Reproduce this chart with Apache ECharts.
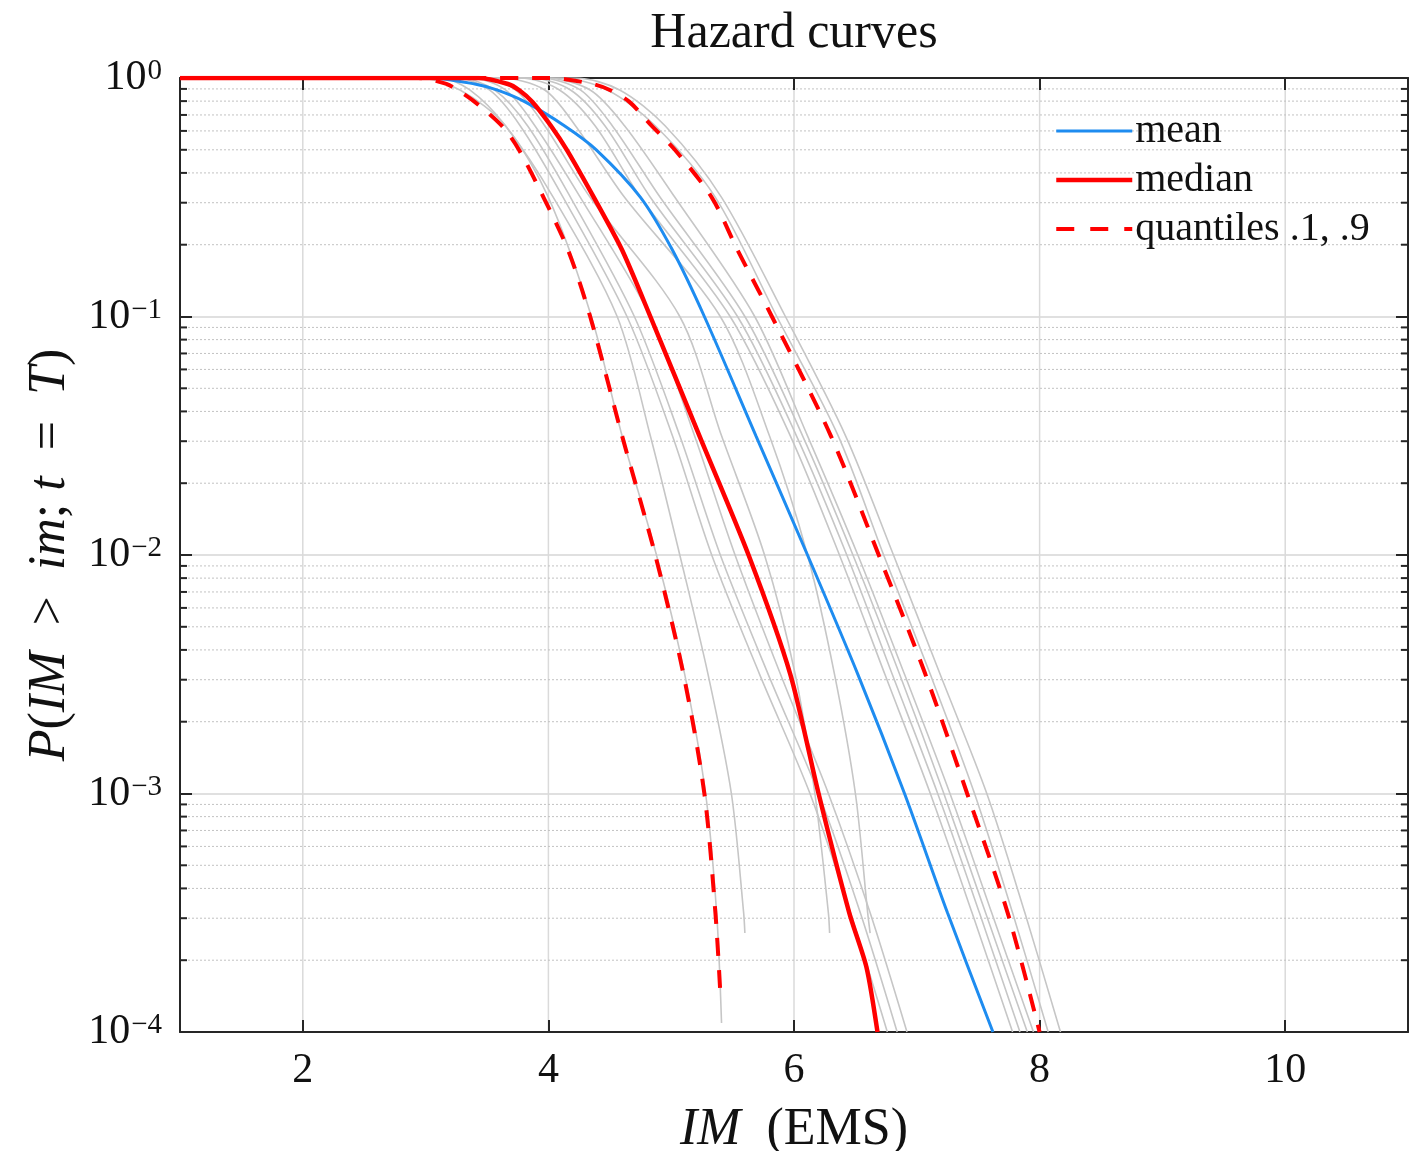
<!DOCTYPE html>
<html><head><meta charset="utf-8">
<script src="https://cdn.jsdelivr.net/npm/echarts@6/dist/echarts.min.js"></script>
<style>html,body{margin:0;padding:0;background:#fff}#c{width:1422px;height:1151px}</style>
</head><body><div id="c"></div>
<script>
// ---- data (IM value, exceedance probability) ----
const xTicks = [2, 4, 6, 8, 10];
const yMinor = [0.0002,0.0003,0.0004,0.0005,0.0006,0.0007,0.0008,0.0009,
  0.002,0.003,0.004,0.005,0.006,0.007,0.008,0.009,
  0.02,0.03,0.04,0.05,0.06,0.07,0.08,0.09,
  0.2,0.3,0.4,0.5,0.6,0.7,0.8,0.9];

const meanCurve = [[1,1],[3.03,1],[3.40,0.944],[3.58,0.891],[3.81,0.794],[4.13,0.631],[4.39,0.5],[4.75,0.316],[5.01,0.19],[5.27,0.1],[5.69,0.0316],[6.11,0.01],[6.52,0.00316],[6.90,0.001],[7.25,0.000316],[7.62,0.0001]];
const medianCurve = [[1,1],[3.43,1],[3.67,0.944],[3.76,0.891],[3.87,0.794],[4.02,0.631],[4.15,0.5],[4.37,0.316],[4.60,0.19],[4.83,0.1],[5.23,0.0316],[5.63,0.01],[5.97,0.00316],[6.20,0.001],[6.45,0.000316],[6.59,0.000187],[6.68,0.0001]];
const q10Curve = [[1,1],[2.94,1],[3.17,0.944],[3.26,0.891],[3.40,0.794],[3.62,0.631],[3.76,0.5],[3.96,0.316],[4.16,0.19],[4.34,0.1],[4.60,0.0316],[4.87,0.01],[5.10,0.00316],[5.27,0.001],[5.36,0.000316],[5.40,0.000146]];
const q90Curve = [[1,1],[4.01,1],[4.36,0.944],[4.50,0.891],[4.66,0.794],[4.84,0.631],[5.03,0.5],[5.33,0.316],[5.54,0.19],[5.82,0.1],[6.30,0.0316],[6.69,0.01],[7.07,0.00316],[7.41,0.001],[7.74,0.000316],[8.00,0.0001]];

const grayA = [[1,1],[2.94,1],[3.28,0.891],[3.65,0.631],[4.00,0.316],[4.35,0.1],[4.60,0.0316],[4.88,0.01],[5.11,0.00316],[5.28,0.001],[5.37,0.000316],[5.41,0.000109]];
const grayB = [[1,1],[3.12,1],[3.36,0.891],[3.65,0.631],[4.04,0.316],[4.56,0.1],[4.83,0.0316],[5.07,0.01],[5.30,0.00316],[5.49,0.001],[5.59,0.000316],[5.60,0.00026]];
const grayC = [[1,1],[3.24,1],[3.52,0.891],[3.77,0.631],[4.12,0.316],[4.64,0.1],[5.01,0.0316],[5.33,0.01],[5.72,0.00316],[6.13,0.001],[6.46,0.000316],[6.76,0.0001]];
const grayD = [[1,1],[3.28,1],[3.56,0.891],[3.83,0.631],[4.18,0.316],[4.70,0.1],[5.07,0.0316],[5.40,0.01],[5.79,0.00316],[6.20,0.001],[6.54,0.000316],[6.84,0.0001]];
const grayE = [[1,1],[3.44,1],[3.73,0.891],[3.97,0.631],[4.34,0.316],[5.07,0.1],[5.41,0.0316],[5.76,0.01],[6.01,0.00316],[6.17,0.001],[6.28,0.000316],[6.29,0.00026]];
const grayF = [[1,1],[3.60,1],[3.97,0.891],[4.22,0.631],[4.62,0.316],[5.40,0.1],[5.80,0.0316],[6.11,0.01],[6.33,0.00316],[6.50,0.001],[6.60,0.000316],[6.62,0.00026]];
const grayG = [[1,1],[3.36,1],[3.65,0.891],[3.89,0.631],[4.26,0.316],[4.83,0.1],[5.19,0.0316],[5.52,0.01],[5.89,0.00316],[6.28,0.001],[6.62,0.000316],[6.92,0.0001]];
const grayH = [[1,1],[3.77,1],[4.09,0.891],[4.38,0.631],[4.75,0.316],[5.48,0.1],[5.97,0.0316],[6.37,0.01],[6.74,0.00316],[7.11,0.001],[7.45,0.000316],[7.78,0.0001]];
const grayI = [[1,1],[3.85,1],[4.18,0.891],[4.46,0.631],[4.83,0.316],[5.54,0.1],[6.02,0.0316],[6.43,0.01],[6.80,0.00316],[7.17,0.001],[7.51,0.000316],[7.84,0.0001]];
const grayJ = [[1,1],[3.93,1],[4.26,0.891],[4.52,0.631],[4.91,0.316],[5.60,0.1],[6.07,0.0316],[6.48,0.01],[6.86,0.00316],[7.22,0.001],[7.56,0.000316],[7.90,0.0001]];
const grayK = [[1,1],[4.09,1],[4.48,0.891],[4.87,0.631],[5.36,0.316],[5.86,0.1],[6.36,0.0316],[6.73,0.01],[7.11,0.00316],[7.47,0.001],[7.78,0.000316],[8.07,0.0001]];
const grayL = [[1,1],[4.22,1],[4.58,0.891],[4.95,0.631],[5.41,0.316],[5.93,0.1],[6.42,0.0316],[6.81,0.01],[7.19,0.00316],[7.57,0.001],[7.88,0.000316],[8.17,0.0001]];
const grayM = [[1,1],[3.97,1],[4.34,0.891],[4.62,0.631],[5.03,0.316],[5.68,0.1],[6.11,0.0316],[6.52,0.01],[6.90,0.00316],[7.27,0.001],[7.61,0.000316],[7.95,0.0001]];
const grayCurves = [grayA, grayB, grayC, grayD, grayE, grayF, grayG, grayH, grayI, grayJ, grayK, grayL, grayM];

// ---- chart ----
const FONT = 'Liberation Serif';
const X_MIN = 1, X_MAX = 11, Y_MIN = 0.0001, Y_MAX = 1;
const axisColor = '#262626';
const DASH = [18, 14];
const chart = echarts.init(document.getElementById('c'), null, {renderer: 'canvas'});

function supLabel(v) {
  const e = Math.round(Math.log10(v));
  return '{b|10}{s|' + (e < 0 ? '\u2212' + (-e) : e) + '}';
}

const series = [];
// vertical major grid lines
series.push({
  type: 'custom', silent: true, z: 0, animation: false,
  data: xTicks.map(v => [v, 1]),
  renderItem(params, api) {
    const t = api.coord([api.value(0), Y_MAX]);
    const b = api.coord([api.value(0), Y_MIN]);
    return {type: 'line', shape: {x1: t[0], y1: t[1], x2: b[0], y2: b[1]},
      style: {stroke: '#dadada', lineWidth: 1.5}};
  }
});
// minor horizontal grid lines + minor ticks on both sides
series.push({
  type: 'custom', silent: true, z: 0, animation: false,
  data: yMinor.map(v => [X_MIN, v]),
  renderItem(params, api) {
    const l = api.coord([X_MIN, api.value(1)]);
    const r = api.coord([X_MAX, api.value(1)]);
    return {type: 'group', children: [
      {type: 'line', shape: {x1: l[0], y1: l[1], x2: r[0], y2: r[1]},
        style: {stroke: '#c2c2c2', lineWidth: 1, lineDash: [2, 2]}},
      {type: 'line', shape: {x1: l[0], y1: l[1], x2: l[0] + 7, y2: l[1]},
        style: {stroke: axisColor, lineWidth: 2}},
      {type: 'line', shape: {x1: r[0] - 7, y1: r[1], x2: r[0], y2: r[1]},
        style: {stroke: axisColor, lineWidth: 2}}
    ]};
  }
});
grayCurves.forEach(d => series.push({
  type: 'line', data: d, symbol: 'none', smooth: 0.3, silent: true, z: 2,
  lineStyle: {color: '#c6c6c6', width: 1.6}, animation: false
}));
series.push({name: 'mean', type: 'line', data: meanCurve, symbol: 'none', smooth: 0.3, z: 3,
  lineStyle: {color: '#1e8cf0', width: 3}, itemStyle: {color: '#1e8cf0'}, animation: false});
series.push({name: 'median', type: 'line', data: medianCurve, symbol: 'none', smooth: 0.25, z: 4,
  lineStyle: {color: '#ff0000', width: 4.5}, itemStyle: {color: '#ff0000'}, animation: false});
series.push({name: 'quantiles .1, .9', type: 'line', data: q10Curve, symbol: 'none', smooth: 0.3, z: 4,
  lineStyle: {color: '#ff0000', width: 4, type: DASH}, itemStyle: {color: '#ff0000'}, animation: false});
series.push({name: 'quantiles .1, .9', type: 'line', data: q90Curve, symbol: 'none', smooth: 0.3, z: 4,
  lineStyle: {color: '#ff0000', width: 4, type: DASH}, itemStyle: {color: '#ff0000'}, animation: false});

const option = {
  backgroundColor: '#ffffff',
  animation: false,
  grid: {left: 180, right: 14, top: 78, bottom: 119, containLabel: false, outerBoundsMode: 'none'},
  graphic: [{
    type: 'text', x: 794, y: 34, silent: true,
    style: {text: 'Hazard curves', font: '50px "Liberation Serif"', fill: '#111',
      textAlign: 'center', textVerticalAlign: 'middle'}
  }],
  legend: {
    data: [
      {name: 'mean', lineStyle: {width: 3, color: '#1e8cf0'}},
      {name: 'median', lineStyle: {width: 4.5, color: '#ff0000'}},
      {name: 'quantiles .1, .9', lineStyle: {width: 4, color: '#ff0000', type: [18, 16]}}
    ],
    orient: 'vertical', left: 1054, top: 111, padding: 0,
    itemWidth: 76, itemHeight: 14, itemGap: 9, selectedMode: false,
    itemStyle: {opacity: 0},
    textStyle: {fontFamily: FONT, fontSize: 40, color: '#111', padding: [0, 0, 0, -2], lineHeight: 40}
  },
  xAxis: [{
    type: 'value', min: X_MIN, max: X_MAX, position: 'bottom',
    axisLine: {show: true, onZero: false, lineStyle: {color: axisColor, width: 2}},
    axisTick: {show: true, inside: true, length: 12, customValues: xTicks, lineStyle: {color: axisColor, width: 2}},
    axisLabel: {customValues: xTicks, margin: 18, fontFamily: FONT, fontSize: 42, color: '#111'},
    splitLine: {show: false},
    name: '{i|IM}  (EMS)', nameLocation: 'middle', nameGap: 72,
    nameTextStyle: {fontFamily: FONT, fontSize: 52, color: '#111',
      rich: {i: {fontFamily: FONT, fontSize: 52, fontStyle: 'italic', color: '#111'}}}
  }, {
    type: 'value', min: X_MIN, max: X_MAX, position: 'top',
    axisLine: {show: true, onZero: false, lineStyle: {color: axisColor, width: 2}},
    axisTick: {show: true, inside: true, length: 12, customValues: xTicks, lineStyle: {color: axisColor, width: 2}},
    axisLabel: {show: false}, splitLine: {show: false}
  }],
  yAxis: [{
    type: 'log', logBase: 10, min: Y_MIN, max: Y_MAX, position: 'left',
    axisLine: {show: true, onZero: false, lineStyle: {color: axisColor, width: 2}},
    axisTick: {show: true, inside: true, length: 12, lineStyle: {color: axisColor, width: 2}},
    minorTick: {show: false}, minorSplitLine: {show: false},
    splitLine: {show: true, lineStyle: {color: '#d6d6d6', width: 1.5}},
    axisLabel: {
      margin: 18, formatter: supLabel,
      rich: {
        b: {fontFamily: FONT, fontSize: 42, color: '#111', lineHeight: 42},
        s: {fontFamily: FONT, fontSize: 29, color: '#111', verticalAlign: 'top', lineHeight: 29, padding: [0, 0, 20, 1]}
      }
    },
    name: '{i|P}({i|IM}  >  {i|im}; {i|t}  =  {i|T})', nameLocation: 'middle', nameGap: 104, nameRotate: 90,
    nameTextStyle: {fontFamily: FONT, fontSize: 52, color: '#111',
      rich: {i: {fontFamily: FONT, fontSize: 52, fontStyle: 'italic', color: '#111'}}}
  }, {
    type: 'log', logBase: 10, min: Y_MIN, max: Y_MAX, position: 'right',
    axisLine: {show: true, onZero: false, lineStyle: {color: axisColor, width: 2}},
    axisTick: {show: true, inside: true, length: 12, lineStyle: {color: axisColor, width: 2}},
    axisLabel: {show: false}, splitLine: {show: false}
  }],
  series: series
};
chart.setOption(option);
</script>
</body></html>
